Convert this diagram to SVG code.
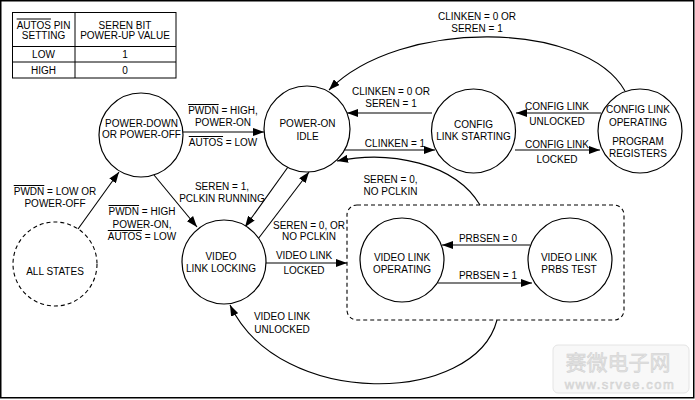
<svg xmlns="http://www.w3.org/2000/svg" width="695" height="400" viewBox="0 0 695 400">
<style>
text{font-family:"Liberation Sans",Arial,sans-serif;font-size:10px;fill:#000;text-anchor:middle}
.node{fill:#fff;stroke:#000;stroke-width:1.2}
.dash{fill:none;stroke:#000;stroke-width:1.1;stroke-dasharray:4 3}
.edge{fill:none;stroke:#000;stroke-width:1.1}
.ol{text-decoration:overline}
.tbl{fill:#fff;stroke:#000;stroke-width:1}
.wm{font-family:"Noto Sans CJK SC","Liberation Sans",sans-serif;fill:#e2e2e2;stroke:#d0d0d0;stroke-width:0.5}
</style>
<defs>
<marker id="ah" markerUnits="userSpaceOnUse" markerWidth="11" markerHeight="8" refX="11" refY="4" orient="auto">
<path d="M0,0 L11,4 L0,8 z" fill="#000"/>
</marker>
</defs>
<rect x="0" y="0" width="695" height="400" fill="#fff"/>
<rect x="0.75" y="0.75" width="693" height="397" fill="none" stroke="#000" stroke-width="1.5"/>

<g id="watermark">
<rect x="553" y="345" width="136" height="48" rx="5" fill="#f8f8f8" stroke="#e4e4e4" stroke-width="1"/>
<text class="wm" x="618" y="370" style="font-size:21px">赛微电子网</text>
<text class="wm" x="620" y="389" style="font-size:13px;letter-spacing:1.5px;font-family:'Liberation Sans',sans-serif">www.srvee.com</text>
</g>

<g id="table">
<rect class="tbl" x="12.5" y="12.5" width="163.5" height="65.5"/>
<line x1="75" y1="12.5" x2="75" y2="78" stroke="#000"/>
<line x1="12.5" y1="46.5" x2="176" y2="46.5" stroke="#000"/>
<line x1="12.5" y1="62" x2="176" y2="62" stroke="#000"/>
<text x="43.5" y="28.5"><tspan class="ol">AUTOS</tspan> PIN</text>
<text x="43.5" y="38.5">SETTING</text>
<text x="125" y="28.5">SEREN BIT</text>
<text x="125" y="38.5">POWER-UP VALUE</text>
<text x="43.5" y="57.5">LOW</text>
<text x="125" y="57.5">1</text>
<text x="43.5" y="73.5">HIGH</text>
<text x="125" y="73.5">0</text>
</g>

<g id="connectors">
<path class="edge" d="M78 229 L119 172" marker-end="url(#ah)"/>
<path class="edge" d="M154 175 L197 227" marker-end="url(#ah)"/>
<path class="edge" d="M183 132 L264 132" marker-end="url(#ah)"/>
<path class="edge" d="M288 167 L245 227" marker-end="url(#ah)"/>
<path class="edge" d="M258 239 L309 172" marker-end="url(#ah)"/>
<path class="edge" d="M266 263 L347 263" marker-end="url(#ah)"/>
<path class="edge" d="M497 320 C475 405 280 410 230 305" marker-end="url(#ah)"/>
<path class="edge" d="M432 113 L347 113" marker-end="url(#ah)"/>
<path class="edge" d="M345 150 L435 150" marker-end="url(#ah)"/>
<path class="edge" d="M601 113 L516 113" marker-end="url(#ah)"/>
<path class="edge" d="M515 150 L600 150" marker-end="url(#ah)"/>
<path class="edge" d="M625 91 C585 20 400 18 329 90" marker-end="url(#ah)"/>
<path class="edge" d="M480 205 C455 163 390 150 337 161" marker-end="url(#ah)"/>
<path class="edge" d="M530 245 L442 245" marker-end="url(#ah)"/>
<path class="edge" d="M438 283 L532 283" marker-end="url(#ah)"/>
</g>

<g id="labels">
<text x="55" y="195"><tspan class="ol">PWDN</tspan> = LOW OR</text>
<text x="55" y="207">POWER-OFF</text>
<text x="142" y="215"><tspan class="ol">PWDN</tspan> = HIGH</text>
<text x="142" y="228">POWER-ON,</text>
<text x="142" y="240"><tspan class="ol">AUTOS</tspan> = LOW</text>
<text x="223" y="114"><tspan class="ol">PWDN</tspan> = HIGH,</text>
<text x="223" y="126">POWER-ON</text>
<text x="223" y="146"><tspan class="ol">AUTOS</tspan> = LOW</text>
<text x="222" y="190">SEREN = 1,</text>
<text x="222" y="201.5">PCLKIN RUNNING</text>
<text x="309" y="228.5">SEREN = 0, OR</text>
<text x="309" y="240">NO PCLKIN</text>
<text x="304" y="258.5">VIDEO LINK</text>
<text x="304" y="274">LOCKED</text>
<text x="282" y="320">VIDEO LINK</text>
<text x="282" y="333">UNLOCKED</text>
<text x="477" y="20">CLINKEN = 0 OR</text>
<text x="477" y="32">SEREN = 1</text>
<text x="391" y="95">CLINKEN = 0 OR</text>
<text x="391" y="107">SEREN = 1</text>
<text x="395" y="146.5">CLINKEN = 1</text>
<text x="557" y="109.5">CONFIG LINK</text>
<text x="557" y="125">UNLOCKED</text>
<text x="557" y="147.5">CONFIG LINK</text>
<text x="557" y="163">LOCKED</text>
<text x="390.5" y="182.5">SEREN = 0,</text>
<text x="390.5" y="194.5">NO PCLKIN</text>
<text x="488" y="241.5">PRBSEN = 0</text>
<text x="488" y="278.5">PRBSEN = 1</text>
</g>

<g id="all-states">
<circle class="dash" cx="55" cy="264" r="42"/>
<text x="55" y="275">ALL STATES</text>
</g>
<g id="power-down">
<circle class="node" cx="141" cy="135" r="42"/>
<text x="141.5" y="127">POWER-DOWN</text>
<text x="141.5" y="138">OR POWER-OFF</text>
</g>
<g id="power-on-idle">
<circle class="node" cx="307" cy="129" r="43"/>
<text x="307.5" y="127">POWER-ON</text>
<text x="307.5" y="139.5">IDLE</text>
</g>
<g id="config-link-starting">
<circle class="node" cx="473.5" cy="131" r="42"/>
<text x="473.5" y="127.5">CONFIG</text>
<text x="473.5" y="140">LINK STARTING</text>
</g>
<g id="config-link-operating">
<circle class="node" cx="640" cy="131" r="42"/>
<text x="638" y="113">CONFIG LINK</text>
<text x="638" y="126">OPERATING</text>
<text x="638" y="145">PROGRAM</text>
<text x="638" y="157">REGISTERS</text>
</g>
<g id="video-link-locking">
<circle class="node" cx="224" cy="262" r="42"/>
<text x="221" y="260">VIDEO</text>
<text x="221" y="271.5">LINK LOCKING</text>
</g>
<g id="video-link-group">
<rect class="dash" x="347" y="205" width="277" height="115" rx="10"/>
</g>
<g id="video-link-operating">
<circle class="node" cx="402" cy="260" r="42"/>
<text x="402" y="261">VIDEO LINK</text>
<text x="402" y="272.5">OPERATING</text>
</g>
<g id="video-link-prbs-test">
<circle class="node" cx="570" cy="260" r="42"/>
<text x="569" y="261">VIDEO LINK</text>
<text x="569" y="272.5">PRBS TEST</text>
</g>
</svg>
